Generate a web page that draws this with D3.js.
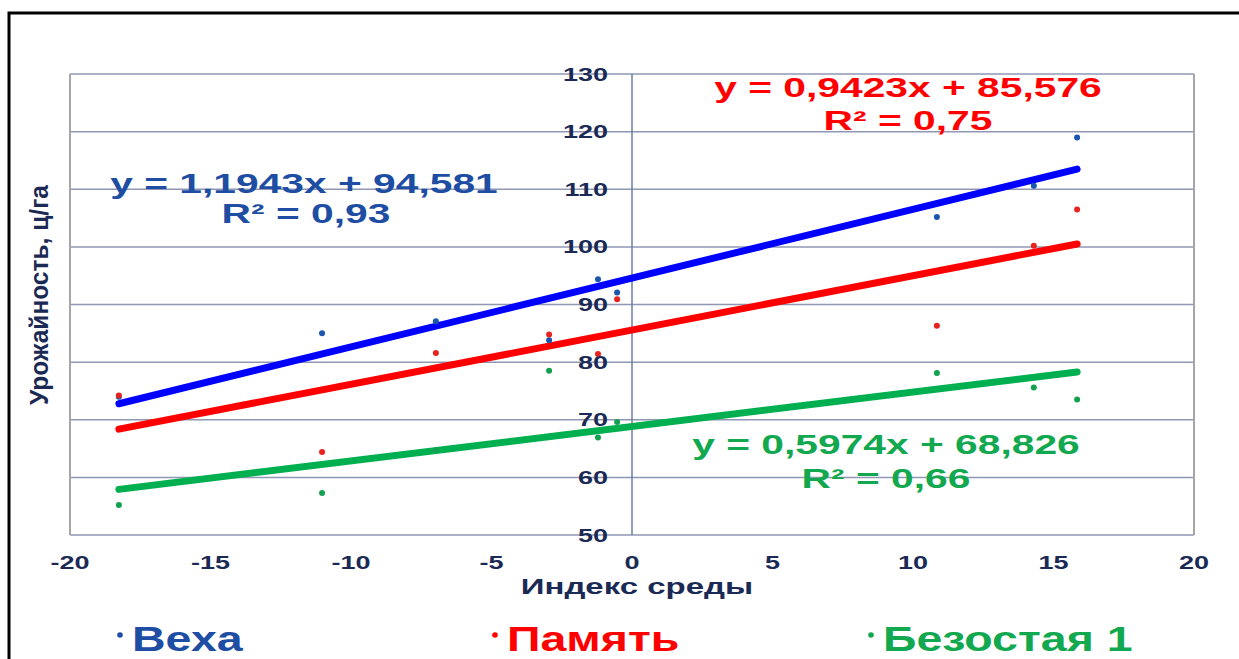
<!DOCTYPE html>
<html>
<head>
<meta charset="utf-8">
<script src="https://cdn.jsdelivr.net/npm/d3@7"></script>
<style>
  body { margin: 0; background: #fff; }
  svg { display: block; font-family: "Liberation Sans", Arial, sans-serif; font-weight: bold; }
</style>
</head>
<body>
<svg id="chart" width="1239" height="659"></svg>
<script>
// environment index (x) and yields per variety
const envIndex = [-18.26, -11.03, -6.98, -2.95, -1.21, -0.53, 10.85, 14.3, 15.84];
const vekha = [74.0, 85.0, 87.1, 83.8, 94.4, 92.1, 105.2, 110.6, 119.0];
const pamyat = [74.2, 64.4, 81.6, 84.8, 81.4, 90.9, 86.3, 100.2, 106.5];
const bezostaya = [55.2, 57.3, 64.7, 78.5, 66.9, 69.6, 78.1, 75.6, 73.5];

const seriesNames = ['Веха', 'Память', 'Безостая 1'];
const slopes = [1.1943, 0.9423, 0.5974];
const intercepts = [94.581, 85.576, 68.826];
const r2 = ['0,93', '0,75', '0,66'];

const xTicks = [-20, -15, -10, -5, 0, 5, 10, 15, 20];
const yTicks = [50, 60, 70, 80, 90, 100, 110, 120, 130];

const dotColors = ['#1a56b0', '#e8231f', '#12a150'];
const lineColors = ['#0000ff', '#ff0000', '#00b050'];
const eqColors = ['#1d4ea3', '#ff0000', '#12a84f'];
const navy = '#1b2a55';

const svg = d3.select('#chart');

const x = d3.scaleLinear().domain([-20, 20]).range([70, 1194]);
const y = d3.scaleLinear().domain([50, 130]).range([535, 74]);

// stretched bold text, like the reference (wide glyphs)
function label(g, txt, px, py, size, sx, anchor, color) {
  return g.append('text')
    .attr('transform', `translate(${px},${py}) scale(${sx},1)`)
    .attr('text-anchor', anchor)
    .attr('font-size', size)
    .attr('fill', color)
    .text(txt);
}

// outer frame
svg.append('path')
  .attr('d', 'M9,670 L9,13 L1250,13')
  .attr('fill', 'none')
  .attr('stroke', '#000')
  .attr('stroke-width', 3);

// gridlines
svg.append('g').selectAll('line')
  .data(yTicks)
  .join('line')
  .attr('x1', x(-20)).attr('x2', x(20))
  .attr('y1', d => y(d)).attr('y2', d => y(d))
  .attr('stroke', '#8f97b3')
  .attr('stroke-width', 1.5);

// plot borders left/right
svg.append('line')
  .attr('x1', x(-20)).attr('x2', x(-20)).attr('y1', y(130)).attr('y2', y(50))
  .attr('stroke', '#a6a6a6').attr('stroke-width', 2);
svg.append('line')
  .attr('x1', x(20)).attr('x2', x(20)).attr('y1', y(130)).attr('y2', y(50))
  .attr('stroke', '#a6a6a6').attr('stroke-width', 2);

// y axis at x = 0
svg.append('line')
  .attr('x1', x(0)).attr('x2', x(0)).attr('y1', y(130)).attr('y2', y(50))
  .attr('stroke', '#6f7ba0').attr('stroke-width', 1.5);

const allSeries = [vekha, pamyat, bezostaya];

// trend lines
const xMin = d3.min(envIndex), xMax = d3.max(envIndex);
svg.append('g').selectAll('line')
  .data(slopes)
  .join('line')
  .attr('x1', x(xMin)).attr('x2', x(xMax))
  .attr('y1', (s, i) => y(s * xMin + intercepts[i]))
  .attr('y2', (s, i) => y(s * xMax + intercepts[i]))
  .attr('stroke', (s, i) => lineColors[i])
  .attr('stroke-width', 7)
  .attr('stroke-linecap', 'round');

// points
allSeries.forEach((vals, i) => {
  svg.append('g').selectAll('circle')
    .data(vals)
    .join('circle')
    .attr('cx', (v, j) => x(envIndex[j]))
    .attr('cy', v => y(v))
    .attr('r', 3)
    .attr('fill', dotColors[i]);
});

// equations
const eqG = svg.append('g');
const eqPos = [[304, 193, 306, 223], [908, 97, 908, 130], [886, 454, 886, 488]];
slopes.forEach((s, i) => {
  const p = eqPos[i];
  const eq = `y = ${String(s).replace('.', ',')}x + ${String(intercepts[i]).replace('.', ',')}`;
  label(eqG, eq, p[0], p[1], 27, 1.51, 'middle', eqColors[i]);
  label(eqG, `R² = ${r2[i]}`, p[2], p[3], 27, 1.51, 'middle', eqColors[i]);
});

// tick labels
const tickG = svg.append('g');
yTicks.forEach(t => label(tickG, t, 608, y(t) + 6.5, 18, 1.5, 'end', navy));
xTicks.forEach(t => label(tickG, t, x(t), 569, 18, 1.5, 'middle', navy));

// axis titles
label(tickG, 'Индекс среды', 637, 594, 22, 1.5, 'middle', navy);
svg.append('text')
  .attr('transform', 'translate(48,295) rotate(-90) scale(1,1.45)')
  .attr('text-anchor', 'middle')
  .attr('font-size', 18)
  .attr('font-family', '"Liberation Sans Narrow", "Liberation Sans", sans-serif')
  .attr('fill', navy)
  .attr('textLength', 220)
  .attr('lengthAdjust', 'spacingAndGlyphs')
  .text('Урожайность, ц/га');

// legend
const legX = [115, 490, 866];
const legG = svg.append('g');
seriesNames.forEach((n, i) => {
  legG.append('circle')
    .attr('cx', legX[i] + 5).attr('cy', 635).attr('r', 2.8)
    .attr('fill', eqColors[i]);
  label(legG, n, legX[i] + 17, 651, 35, 1.33, 'start', eqColors[i]);
});
</script>
</body>
</html>
